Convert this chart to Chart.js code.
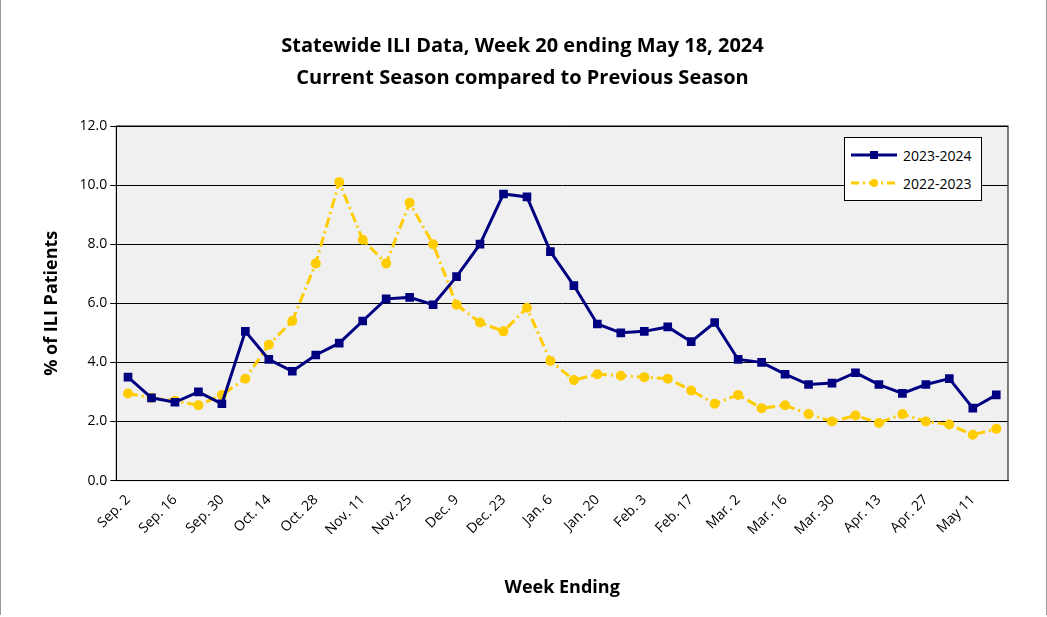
<!DOCTYPE html>
<html><head><meta charset="utf-8">
<script src="https://cdn.jsdelivr.net/npm/chart.js@4"></script>
<style>
body{margin:0;background:#fff;font-family:"Open Sans",sans-serif}
#wrap{position:relative;width:1045px;height:615px;border:1px solid #999;border-top:none;border-bottom:none}
#legend{position:absolute;left:843px;top:137px;width:136px;height:62px;border:1px solid #000;background:#fff;font-size:14px}
#legend div{display:flex;align-items:center;height:28px;padding-left:6px}
#legend svg{margin-right:6px}
</style></head><body>
<div id="wrap"><canvas id="c" width="1045" height="615"></canvas>
<div id="legend">
<div style="margin-top:3px"><svg width="46" height="10"><line x1="0" y1="5" x2="46" y2="5" stroke="#000080" stroke-width="3"/><rect x="19" y="1" width="8" height="8" fill="#000080"/></svg>2023-2024</div>
<div><svg width="46" height="10"><line x1="0" y1="5" x2="46" y2="5" stroke="#FFCC00" stroke-width="3" stroke-dasharray="8,4,2,4"/><circle cx="23" cy="5" r="4" fill="#FFCC00"/></svg>2022-2023</div>
</div></div>
<script>
const weeks = ['Sep. 2','Sep. 9','Sep. 16','Sep. 23','Sep. 30','Oct. 7','Oct. 14','Oct. 21','Oct. 28','Nov. 4','Nov. 11','Nov. 18','Nov. 25','Dec. 2','Dec. 9','Dec. 16','Dec. 23','Dec. 30','Jan. 6','Jan. 13','Jan. 20','Jan. 27','Feb. 3','Feb. 10','Feb. 17','Feb. 24','Mar. 2','Mar. 9','Mar. 16','Mar. 23','Mar. 30','Apr. 6','Apr. 13','Apr. 20','Apr. 27','May 4','May 11','May 18'];
const season2324 = [3.5,2.8,2.65,3.0,2.6,5.05,4.1,3.7,4.25,4.65,5.4,6.15,6.2,5.95,6.9,8.0,9.7,9.6,7.75,6.6,5.3,5.0,5.05,5.2,4.7,5.35,4.1,4.0,3.6,3.25,3.3,3.65,3.25,2.95,3.25,3.45,2.45,2.9];
const season2223 = [2.95,2.8,2.7,2.55,2.9,3.45,4.6,5.4,7.35,10.1,8.15,7.35,9.4,8.0,5.95,5.35,5.05,5.85,4.05,3.4,3.6,3.55,3.5,3.45,3.05,2.6,2.9,2.45,2.55,2.25,2.0,2.2,1.95,2.25,2.0,1.9,1.55,1.75];

const plotBg = {
  id: 'plotBg',
  beforeDraw(chart) {
    const {ctx, chartArea: a} = chart;
    ctx.save();
    ctx.fillStyle = '#F0F0F0';
    ctx.fillRect(a.left, a.top, a.width, a.height);
    ctx.strokeStyle = '#000';
    ctx.lineWidth = 1;
    ctx.strokeRect(a.left, a.top, a.width, a.height);
    ctx.restore();
  }
};

new Chart(document.getElementById('c'), {
  type: 'line',
  data: {
    labels: weeks,
    datasets: [{
      label: '2023-2024', data: season2324,
      borderColor: '#000080', backgroundColor: '#000080', borderWidth: 3,
      pointStyle: 'rect', pointRadius: 4, tension: 0
    }, {
      label: '2022-2023', data: season2223,
      borderColor: '#FFCC00', backgroundColor: '#FFCC00', borderWidth: 3,
      borderDash: [10, 4, 2, 4], pointStyle: 'circle', pointRadius: 3.5, tension: 0
    }]
  },
  options: {
    responsive: false, animation: false,
    layout: {padding: {left: 36, right: 38, top: 30, bottom: 12}},
    plugins: {
      legend: {display: false},
      title: {
        display: true,
        text: ['Statewide ILI Data, Week 20 ending May 18, 2024', 'Current Season compared to Previous Season'],
        color: '#000', font: {family: 'Open Sans', size: 20, weight: 'bold', lineHeight: 1.6},
        padding: {top: 0, bottom: 32}
      }
    },
    scales: {
      x: {
        offset: true,
        grid: {display: false},
        border: {color: '#000'},
        ticks: {
          color: '#000', font: {family: 'Open Sans', size: 14},
          maxRotation: 45, minRotation: 45, autoSkip: false,
          callback: (v, i) => i % 2 === 0 ? weeks[i] : ''
        },
        title: {display: true, text: 'Week Ending', color: '#000', font: {family: 'Open Sans', size: 18, weight: 'bold'}, padding: {top: 36}}
      },
      y: {
        min: 0, max: 12,
        grid: {color: '#000', drawTicks: true, tickLength: 6},
        border: {color: '#000'},
        ticks: {stepSize: 2, color: '#000', font: {family: 'Open Sans', size: 14}, callback: v => v.toFixed(1)},
        title: {display: true, text: '% of ILI Patients', color: '#000', font: {family: 'Open Sans', size: 18, weight: 'bold'}, padding: {bottom: 14}}
      }
    }
  },
  plugins: [plotBg]
});
</script></body></html>
